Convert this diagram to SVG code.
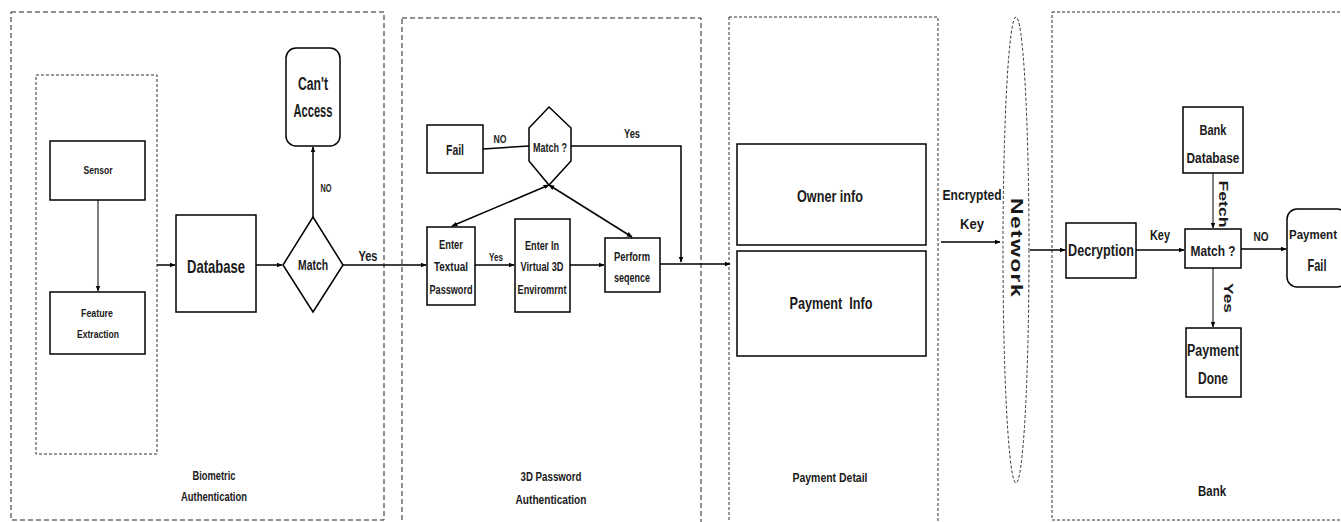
<svg xmlns="http://www.w3.org/2000/svg" width="1341" height="522" viewBox="0 0 1341 522">
<defs>
<marker id="ah" viewBox="0 0 10 10" refX="9" refY="5" markerWidth="6" markerHeight="6" orient="auto-start-reverse" markerUnits="userSpaceOnUse">
<path d="M0,1 L10,5 L0,9 z" fill="#000"/>
</marker>
<style>
text{font-family:"Liberation Sans",Arial,sans-serif;font-weight:bold;fill:#1a1a1a;text-anchor:middle;dominant-baseline:central}
.box{fill:#fff;stroke:#000;stroke-width:1.5}
.grp{fill:none;stroke:#222;stroke-width:1;stroke-dasharray:5 3}
.grp2{fill:none;stroke:#333;stroke-width:1;stroke-dasharray:3 2}
.ln{fill:none;stroke:#000;stroke-width:1.5}
.thin{fill:none;stroke:#000;stroke-width:1}
</style>
</defs>
<rect width="1341" height="522" fill="#fff"/>

<g id="groups">
<rect class="grp" x="11" y="12" width="373" height="508"/>
<rect class="grp2" x="36" y="75" width="121" height="379"/>
<rect class="grp" x="402" y="18" width="299" height="520"/>
<rect class="grp2" x="729" y="17" width="209" height="520"/>
<rect class="grp2" x="1052" y="12" width="300" height="508"/>
</g>

<g id="connectors">
<line class="thin" x1="98" y1="200" x2="98" y2="291" marker-end="url(#ah)"/>
<line class="ln" x1="157" y1="265" x2="175" y2="265" marker-end="url(#ah)"/>
<line class="ln" x1="256" y1="265" x2="282" y2="265" marker-end="url(#ah)"/>
<line class="ln" x1="313" y1="217" x2="313" y2="147" marker-end="url(#ah)"/>
<line class="ln" x1="343" y1="265" x2="426" y2="265" marker-end="url(#ah)"/>
<line class="ln" x1="483" y1="149" x2="529" y2="146"/>
<polyline class="ln" points="571,146 681,146 681,262" marker-end="url(#ah)"/>
<line class="ln" x1="549" y1="185" x2="452" y2="226" marker-start="url(#ah)" marker-end="url(#ah)"/>
<line class="ln" x1="549" y1="185" x2="632" y2="237" marker-start="url(#ah)" marker-end="url(#ah)"/>
<line class="ln" x1="475" y1="265" x2="514" y2="265" marker-end="url(#ah)"/>
<line class="ln" x1="570" y1="265" x2="604" y2="265" marker-end="url(#ah)"/>
<line class="ln" x1="660" y1="264" x2="730" y2="264" marker-end="url(#ah)"/>
<line class="ln" x1="941" y1="242" x2="1000" y2="242" marker-end="url(#ah)"/>
<line class="ln" x1="1030" y1="250" x2="1065" y2="250" marker-end="url(#ah)"/>
<line class="ln" x1="1136" y1="250" x2="1184" y2="250" marker-end="url(#ah)"/>
<line class="thin" x1="1213" y1="173" x2="1213" y2="228" marker-end="url(#ah)"/>
<line class="ln" x1="1241" y1="249" x2="1286" y2="249" marker-end="url(#ah)"/>
<line class="thin" x1="1213" y1="268" x2="1213" y2="327" marker-end="url(#ah)"/>
<text x="326" y="188" font-size="11" textLength="11" lengthAdjust="spacingAndGlyphs">NO</text>
<text x="368" y="255" font-size="15" textLength="19" lengthAdjust="spacingAndGlyphs">Yes</text>
<text x="500" y="139" font-size="11" textLength="13" lengthAdjust="spacingAndGlyphs">NO</text>
<text x="632" y="134" font-size="12" textLength="16" lengthAdjust="spacingAndGlyphs">Yes</text>
<text x="496" y="257" font-size="11" textLength="14" lengthAdjust="spacingAndGlyphs">Yes</text>
<text x="972" y="195" font-size="14" textLength="59" lengthAdjust="spacingAndGlyphs">Encrypted</text>
<text x="972" y="224" font-size="14" textLength="24" lengthAdjust="spacingAndGlyphs">Key</text>
<text x="1160" y="235" font-size="14" textLength="20" lengthAdjust="spacingAndGlyphs">Key</text>
<text x="1261" y="236" font-size="13" textLength="15" lengthAdjust="spacingAndGlyphs">NO</text>
<text x="1223" y="204" font-size="12" transform="rotate(90 1223 204)" textLength="47" lengthAdjust="spacingAndGlyphs">Fetch</text>
<text x="1228" y="298" font-size="13" transform="rotate(90 1228 298)" textLength="30" lengthAdjust="spacingAndGlyphs">Yes</text>
</g>

<g id="n-sensor"><rect class="box" x="50" y="141" width="95" height="59"/><text x="98" y="170" font-size="11" textLength="29" lengthAdjust="spacingAndGlyphs">Sensor</text></g>
<g id="n-feature"><rect class="box" x="50" y="292" width="95" height="62"/><text x="97" y="313" font-size="11" textLength="32" lengthAdjust="spacingAndGlyphs">Feature</text><text x="98" y="334" font-size="11" textLength="42" lengthAdjust="spacingAndGlyphs">Extraction</text></g>
<g id="n-database"><rect class="box" x="176" y="215" width="80" height="97"/><text x="216" y="266" font-size="19" textLength="58" lengthAdjust="spacingAndGlyphs">Database</text></g>
<g id="n-match1"><polygon class="box" points="313,217 343,265 313,312 283,265"/><text x="313" y="265" font-size="14" textLength="30" lengthAdjust="spacingAndGlyphs">Match</text></g>
<g id="n-cantaccess"><rect class="box" x="286" y="48" width="54" height="98" rx="10"/><text x="313" y="84" font-size="18" textLength="30" lengthAdjust="spacingAndGlyphs">Can't</text><text x="313" y="111" font-size="18" textLength="39" lengthAdjust="spacingAndGlyphs">Access</text></g>
<g id="n-biolabel"><text x="214" y="476" font-size="12" textLength="43" lengthAdjust="spacingAndGlyphs">Biometric</text><text x="214" y="497" font-size="12" textLength="66" lengthAdjust="spacingAndGlyphs">Authentication</text></g>

<g id="n-fail"><rect class="box" x="427" y="125" width="56" height="48"/><text x="455" y="149" font-size="15" textLength="18" lengthAdjust="spacingAndGlyphs">Fail</text></g>
<g id="n-match2"><polygon class="box" points="549,107 571,128 571,161 549,185 529,161 529,128"/><text x="550" y="147" font-size="13" textLength="34" lengthAdjust="spacingAndGlyphs">Match ?</text></g>
<g id="n-textual"><rect class="box" x="427" y="227" width="48" height="78"/><text x="451" y="244" font-size="13" textLength="24" lengthAdjust="spacingAndGlyphs">Enter</text><text x="451" y="266" font-size="13" textLength="34" lengthAdjust="spacingAndGlyphs">Textual</text><text x="451" y="289" font-size="13" textLength="43" lengthAdjust="spacingAndGlyphs">Password</text></g>
<g id="n-virtual"><rect class="box" x="515" y="219" width="55" height="93"/><text x="542" y="245" font-size="13" textLength="34" lengthAdjust="spacingAndGlyphs">Enter In</text><text x="542" y="266" font-size="13" textLength="43" lengthAdjust="spacingAndGlyphs">Virtual 3D</text><text x="542" y="289" font-size="13" textLength="49" lengthAdjust="spacingAndGlyphs">Enviromrnt</text></g>
<g id="n-perform"><rect class="box" x="605" y="238" width="55" height="54"/><text x="632" y="256" font-size="13" textLength="36" lengthAdjust="spacingAndGlyphs">Perform</text><text x="632" y="277" font-size="13" textLength="36" lengthAdjust="spacingAndGlyphs">seqence</text></g>
<g id="n-3dlabel"><text x="551" y="476" font-size="13" textLength="61" lengthAdjust="spacingAndGlyphs">3D Password</text><text x="551" y="499" font-size="13" textLength="71" lengthAdjust="spacingAndGlyphs">Authentication</text></g>

<g id="n-owner"><rect class="box" x="737" y="144" width="189" height="101"/><text x="830" y="196" font-size="17" textLength="66" lengthAdjust="spacingAndGlyphs">Owner info</text></g>
<g id="n-payinfo"><rect class="box" x="737" y="251" width="189" height="105"/><text x="831" y="303" font-size="17" xml:space="preserve" textLength="83" lengthAdjust="spacingAndGlyphs">Payment  Info</text></g>
<g id="n-paylabel"><text x="830" y="477" font-size="13" textLength="75" lengthAdjust="spacingAndGlyphs">Payment Detail</text></g>

<g id="n-network"><ellipse class="grp2" cx="1016" cy="250" rx="13" ry="233"/><text x="1016" y="248" font-size="17" letter-spacing="1" textLength="100" lengthAdjust="spacingAndGlyphs" transform="rotate(90 1016 248)">Network</text></g>

<g id="n-decryption"><rect class="box" x="1066" y="223" width="70" height="55"/><text x="1101" y="250" font-size="17" textLength="66" lengthAdjust="spacingAndGlyphs">Decryption</text></g>
<g id="n-bankdb"><rect class="box" x="1183" y="107" width="60" height="66"/><text x="1213" y="129" font-size="15" textLength="27" lengthAdjust="spacingAndGlyphs">Bank</text><text x="1213" y="157" font-size="15" textLength="53" lengthAdjust="spacingAndGlyphs">Database</text></g>
<g id="n-match3"><rect class="box" x="1185" y="229" width="56" height="39"/><text x="1213" y="250" font-size="15" textLength="45" lengthAdjust="spacingAndGlyphs">Match ?</text></g>
<g id="n-payfail"><rect class="box" x="1287" y="209" width="60" height="78" rx="10"/><text x="1313" y="234" font-size="13" textLength="48" lengthAdjust="spacingAndGlyphs">Payment</text><text x="1317" y="265" font-size="17" textLength="19" lengthAdjust="spacingAndGlyphs">Fail</text></g>
<g id="n-paydone"><rect class="box" x="1186" y="328" width="55" height="69"/><text x="1213" y="350" font-size="16" textLength="52" lengthAdjust="spacingAndGlyphs">Payment</text><text x="1213" y="378" font-size="16" textLength="30" lengthAdjust="spacingAndGlyphs">Done</text></g>
<g id="n-banklabel"><text x="1212" y="490" font-size="15" textLength="28" lengthAdjust="spacingAndGlyphs">Bank</text></g>
</svg>
